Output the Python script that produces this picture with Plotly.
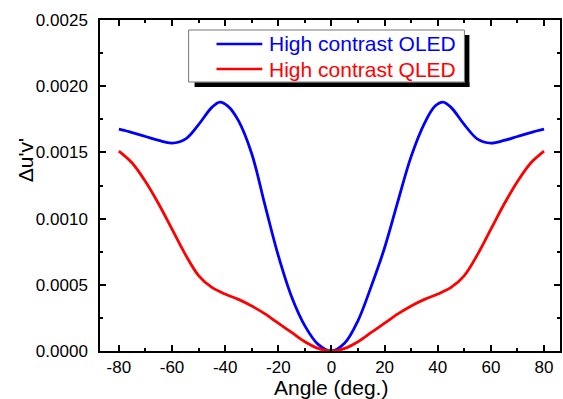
import plotly.graph_objects as go

# ---- data ----
angle_oled = [-80, -75, -70, -65, -60, -55, -50, -45, -42, -39, -35, -30, -25, -20, -15, -10, -5, 0,
              5, 10, 15, 20, 25, 30, 35, 39, 42, 45, 50, 55, 60, 65, 70, 75, 80]
duv_oled = [0.001675, 0.00165, 0.00162, 0.00159, 0.00157, 0.00160, 0.00171, 0.00184, 0.00188, 0.00185,
            0.00174, 0.00149, 0.00110, 0.00072, 0.00041, 0.00019, 0.00005, 0.0,
            0.00006, 0.00023, 0.00049, 0.00078, 0.00113, 0.00147, 0.00172, 0.00185, 0.00188, 0.00184,
            0.00171, 0.00160, 0.00157, 0.00159, 0.00162, 0.00165, 0.001675]

angle_qled = [-80, -75, -70, -65, -60, -55, -50, -45, -40, -35, -30, -25, -20, -15, -10, -5, 0,
              5, 10, 15, 20, 25, 30, 35, 40, 45, 50, 55, 60, 65, 70, 75, 80]
duv_qled = [0.00151, 0.00142, 0.00128, 0.00111, 0.00092, 0.00073, 0.00057, 0.00048, 0.00043, 0.00039,
            0.00034, 0.00028, 0.00021, 0.00014, 0.00007, 0.00002, 0.0,
            0.00002, 0.00007, 0.00014, 0.00021, 0.00028, 0.00034, 0.00039, 0.00043, 0.00048, 0.00057,
            0.00073, 0.00092, 0.00111, 0.00128, 0.00142, 0.00151]

series_names = ["High contrast OLED", "High contrast QLED"]
series_colors = ["#0000FF", "#FF0000"]

x_tickvals = [-80, -60, -40, -20, 0, 20, 40, 60, 80]
x_ticktext = ["-80", "-60", "-40", "-20", "0", "20", "40", "60", "80"]
y_tickvals = [0.0, 0.0005, 0.0010, 0.0015, 0.0020, 0.0025]
y_ticktext = ["0.0000", "0.0005", "0.0010", "0.0015", "0.0020", "0.0025"]

x_title = "Angle (deg.)"
y_title = "Δu'v'"

# ---- layout geometry ----
W, H = 563, 399
L, R, T, B = 100, 1, 20, 48
PW, PH = W - L - R, H - T - B
XR = [-87.1, 86.0]
YR = [0, 0.0025]
FONT = "Liberation Sans, Arial, sans-serif"


def px(x):
    return (x - L) / PW


def py(y):
    return (H - B - y) / PH


fig = go.Figure()
fig.add_trace(go.Scatter(x=angle_oled, y=duv_oled, mode="lines", name=series_names[0],
                         line=dict(color=series_colors[0], width=2.8, shape="spline", smoothing=1.0),
                         showlegend=False))
fig.add_trace(go.Scatter(x=angle_qled, y=duv_qled, mode="lines", name=series_names[1],
                         line=dict(color=series_colors[1], width=2.8, shape="spline", smoothing=1.0),
                         showlegend=False))

axis_common = dict(showgrid=False, zeroline=False, showline=True, linecolor="black", linewidth=1.5,
                   mirror="ticks", ticks="inside", ticklen=6, tickwidth=1.5, tickcolor="black",
                   tickfont=dict(family=FONT, size=17, color="black"))

fig.update_xaxes(range=XR, tickmode="array", tickvals=x_tickvals, ticktext=x_ticktext,
                 minor=dict(dtick=10, tick0=-90, ticks="inside", ticklen=3, tickwidth=1.5,
                            tickcolor="black", showgrid=False),
                 ticklabelstandoff=0, **axis_common)
fig.update_yaxes(range=YR, tickmode="array", tickvals=y_tickvals, ticktext=y_ticktext,
                 minor=dict(dtick=0.00025, tick0=0, ticks="inside", ticklen=3, tickwidth=1.5,
                            tickcolor="black", showgrid=False),
                 ticklabelstandoff=7, **axis_common)

shapes = []
annotations = []
# legend box
shapes.append(dict(type="rect", xref="paper", yref="paper", x0=px(189), x1=px(466), y0=py(82), y1=py(30),
                   fillcolor="white", line=dict(color="#777777", width=1), layer="above"))
# drop shadow strips (right and bottom), drawn on top
shapes.append(dict(type="rect", xref="paper", yref="paper", x0=px(466.5), x1=px(471), y0=py(87), y1=py(35),
                   fillcolor="#000000", opacity=1, line=dict(color="#000000", width=0), layer="above"))
shapes.append(dict(type="rect", xref="paper", yref="paper", x0=px(195), x1=px(471), y0=py(87), y1=py(82.5),
                   fillcolor="#000000", opacity=1, line=dict(color="#000000", width=0), layer="above"))
row_y = [44, 69]
for i in range(2):
    shapes.append(dict(type="line", xref="paper", yref="paper", x0=px(217), x1=px(263),
                       y0=py(row_y[i]), y1=py(row_y[i]),
                       line=dict(color=series_colors[i], width=2.5), layer="above"))
    annotations.append(dict(text=series_names[i], xref="paper", yref="paper", x=px(268), y=py(row_y[i]),
                            xanchor="left", yanchor="middle", showarrow=False,
                            font=dict(family=FONT, size=21, color=series_colors[i])))

annotations.append(dict(text=x_title, xref="paper", yref="paper", x=px(332), y=py(387),
                        xanchor="center", yanchor="middle", showarrow=False,
                        font=dict(family=FONT, size=21, color="black")))
annotations.append(dict(text=y_title, xref="paper", yref="paper", x=px(25), y=py(160),
                        xanchor="center", yanchor="middle", showarrow=False, textangle=-90,
                        font=dict(family=FONT, size=21, color="black")))

fig.update_layout(width=W, height=H, margin=dict(l=L, r=R, t=T, b=B, pad=0),
                  plot_bgcolor="white", paper_bgcolor="white",
                  shapes=shapes, annotations=annotations, showlegend=False)

fig.write_html("out.html", config={"displayModeBar": False},
               post_script="document.body.style.margin='0';document.body.style.padding='0';"
                           "document.body.style.overflow='hidden';")
